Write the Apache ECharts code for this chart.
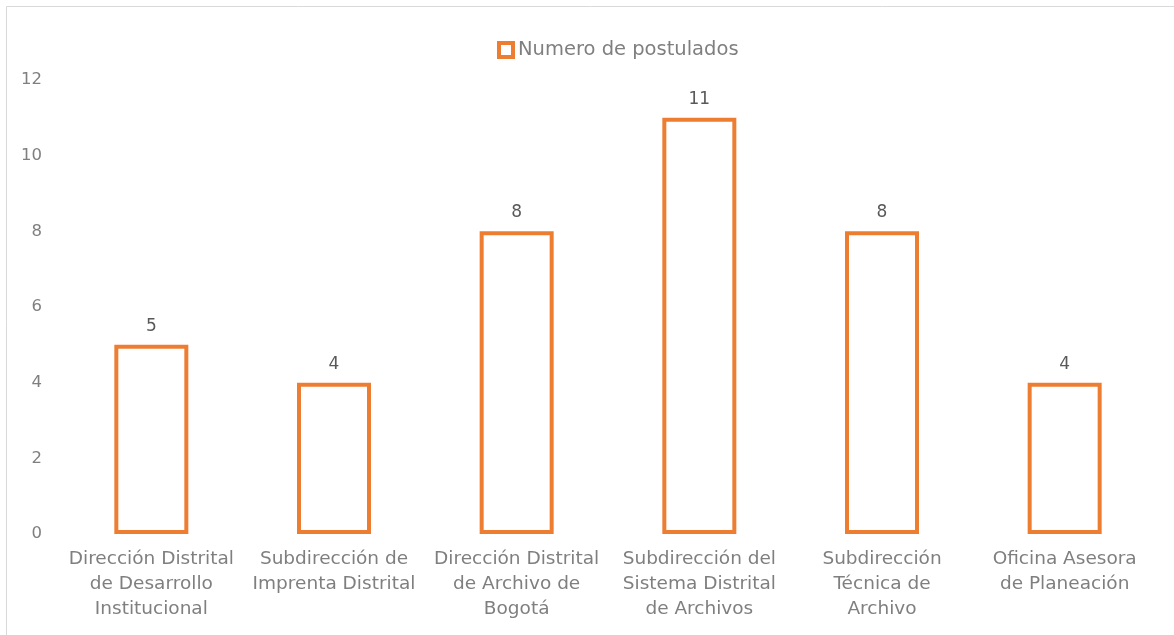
<!DOCTYPE html>
<html>
<head>
<meta charset="utf-8">
<script src="https://cdn.jsdelivr.net/npm/echarts@6/dist/echarts.min.js"></script>
<style>
html,body{margin:0;padding:0;background:#fff;}
#c{width:1174px;height:635px;}
</style>
</head>
<body>
<div id="c"></div>
<script>
const categories = [
  "Dirección Distrital\nde Desarrollo\nInstitucional",
  "Subdirección de\nImprenta Distrital",
  "Dirección Distrital\nde Archivo de\nBogotá",
  "Subdirección del\nSistema Distrital\nde Archivos",
  "Subdirección\nTécnica de\nArchivo",
  "Oficina Asesora\nde Planeación"
];
const seriesName = "Numero de postulados";
const values = [5, 4, 8, 11, 8, 4];
const yTicks = [0, 2, 4, 6, 8, 10, 12];

const FONT = "'DejaVu Sans', sans-serif";
const chart = echarts.init(document.getElementById('c'));
chart.setOption({
  animation: false,
  textStyle: { fontFamily: FONT },
  graphic: [{
    type: 'rect', left: 4, top: 4, silent: true,
    shape: { width: 1168, height: 640 },
    style: { fill: 'none', stroke: '#d9d9d9', lineWidth: 1 }
  }],
  legend: {
    data: [seriesName],
    left: 497, top: 40, padding: 0,
    itemWidth: 14, itemHeight: 14, itemGap: 4,
    icon: 'rect',
    itemStyle: { color: '#ffffff', borderColor: '#ed7d31', borderWidth: 4 },
    textStyle: { color: '#7f7f7f', fontSize: 19.5, fontFamily: FONT }
  },
  grid: { left: 60, right: 18, top: 80, bottom: 101, containLabel: false },
  xAxis: {
    type: 'category',
    data: categories,
    axisLine: { show: false },
    axisTick: { show: false },
    axisLabel: { color: '#7f7f7f', fontSize: 18.5, lineHeight: 25, margin: 13, interval: 0, fontFamily: FONT }
  },
  yAxis: {
    type: 'value',
    min: yTicks[0], max: yTicks[yTicks.length-1], interval: 2,
    splitLine: { show: false },
    axisLine: { show: false },
    axisTick: { show: false },
    axisLabel: { color: '#7f7f7f', fontSize: 16.5, margin: 18, fontFamily: FONT }
  },
  series: [{
    name: seriesName,
    type: 'bar',
    data: values,
    barWidth: 74,
    itemStyle: { color: '#ffffff', borderColor: '#ed7d31', borderWidth: 4 },
    label: { show: true, position: 'top', distance: 10, color: '#595959', fontSize: 17, fontFamily: FONT }
  }]
});
</script>
</body>
</html>
